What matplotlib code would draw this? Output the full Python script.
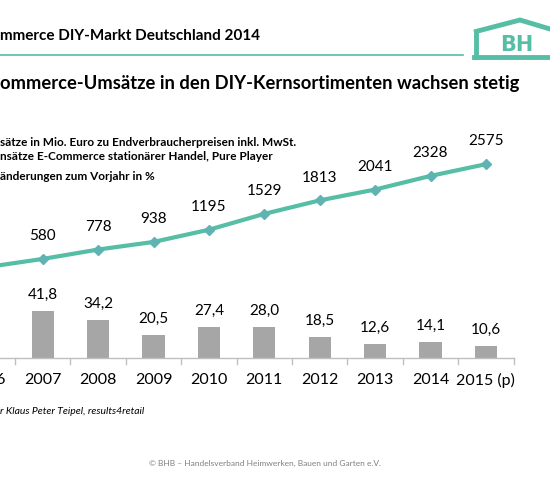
import matplotlib
matplotlib.use("Agg")
import matplotlib.pyplot as plt
import numpy as np
from matplotlib.patches import Polygon

years = ["2006", "2007", "2008", "2009", "2010", "2011", "2012", "2013", "2014", "2015 (p)"]
umsatz = [410, 580, 778, 938, 1195, 1529, 1813, 2041, 2328, 2575]
wachstum = [np.nan, 41.8, 34.2, 20.5, 27.4, 28.0, 18.5, 12.6, 14.1, 10.6]
bar_labels = ["", "41,8", "34,2", "20,5", "27,4", "28,0", "18,5", "12,6", "14,1", "10,6"]

TEAL = "#55bea5"
FONT = ["Lato", "DejaVu Sans"]
plt.rcParams['font.family'] = FONT

fig = plt.figure(figsize=(5.5, 4.8), dpi=100)
W, H = 550, 480
x = np.arange(len(years))
xlim = (0.229, 0.229 + W / 55.4)

axb = fig.add_axes([0, 0, 1, 1])
axb.set_xlim(*xlim)
axb.set_ylim(-(H - 358) / 1.12, 358 / 1.12)
axb.axis("off")
axb.bar(x, wachstum, width=0.4, color="#a6a6a6")
for xi, v, lab in zip(x, wachstum, bar_labels):
    if lab:
        axb.text(xi, v + 8, lab, ha="center", va="bottom", fontsize=11)
axb.plot([xlim[0], 9.5], [0, 0], color="#bfbfbf", lw=1)
for b in np.arange(0.5, 9.6, 1.0):
    axb.plot([b, b], [0, -5], color="#bfbfbf", lw=1)
for xi, y in zip(x, years):
    axb.text(xi, -20, y, ha="center", va="center", fontsize=11.5)

axl = fig.add_axes([0, 0, 1, 1], facecolor="none")
axl.set_xlim(*xlim)
s = 21.05
axl.set_ylim(-(H - 286.5) * s, 286.5 * s)
axl.axis("off")
axl.plot(x, umsatz, color=TEAL, lw=3, marker="D", ms=5, mfc="#5fb3b3", mec="#5fb3b3")
for xi, v in zip(x[1:], umsatz[1:]):
    axl.text(xi, v + 330, str(v), ha="center", va="bottom", fontsize=11)

# header
fig.text(0, 1 - 36 / H, "mmerce DIY-Markt Deutschland 2014", fontsize=11, fontweight="bold", va="center")
fig.add_artist(plt.Line2D([0, 463 / W], [1 - 55 / H] * 2, color=TEAL, lw=1.2))
# logo
roof = Polygon([[474 / W, 1 - 32 / H], [520 / W, 1 - 20 / H], [560 / W, 1 - 32 / H]],
               closed=False, fill=False, edgecolor=TEAL, lw=3.5, transform=fig.transFigure)
fig.add_artist(roof)
fig.add_artist(plt.Line2D([476 / W, 476 / W], [1 - 32 / H, 1 - 57 / H], color=TEAL, lw=3.5))
fig.add_artist(plt.Line2D([474 / W, 1], [1 - 57 / H] * 2, color=TEAL, lw=3.5))
fig.text(500 / W, 1 - 45 / H, "BH", fontsize=15, fontweight="bold", color=TEAL, va="center", family=["DejaVu Sans"])

fig.text(0, 1 - 83 / H, "ommerce-Umsätze in den DIY-Kernsortimenten wachsen stetig",
         fontsize=13.2, fontweight="bold", va="center")
fig.text(0, 1 - 142 / H, "sätze in Mio. Euro zu Endverbraucherpreisen inkl. MwSt.", fontsize=8.5, fontweight="bold", va="center")
fig.text(0, 1 - 157 / H, "nsätze E-Commerce stationärer Handel, Pure Player", fontsize=8.5, fontweight="bold", va="center")
fig.text(0, 1 - 177 / H, "änderungen zum Vorjahr in %", fontsize=8.5, fontweight="bold", va="center")
fig.text(0, 1 - 411 / H, "r Klaus Peter Teipel, results4retail", fontsize=7.5, style="italic", va="center")
fig.text(265 / W, 1 - 463 / H, "© BHB – Handelsverband Heimwerken, Bauen und Garten e.V.",
         fontsize=6, color="#808080", ha="center", va="center")

fig.savefig("out.png", dpi=100)
